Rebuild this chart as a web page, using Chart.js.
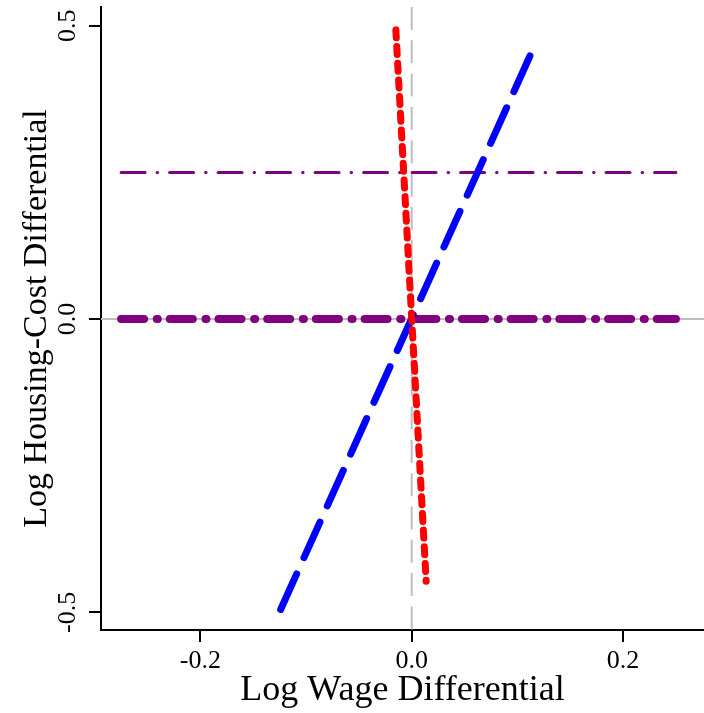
<!DOCTYPE html>
<html>
<head>
<meta charset="utf-8">
<style>
  html, body { margin: 0; padding: 0; background: #fff; }
  canvas { display: block; }
</style>
<script src="https://cdn.jsdelivr.net/npm/chart.js@4"></script>
</head>
<body>
<canvas id="chart" width="704" height="713"></canvas>
<script>
// ===== axis setup =====
const xTicks = [-0.2, 0, 0.2];
const yTicks = [-0.5, 0, 0.5];
const xLimits = [-0.294, 0.2766];
const yLimits = [-0.530, 0.532];

// ===== series =====
const blueX = [-0.124, 0.112];
const blueY = [-0.495, 0.449];
const redX = [-0.015, 0.0137];
const redY = [0.493, -0.447];
const purpleX = [-0.275, 0.25];
const purpleLowY = [0, 0];
const purpleHighY = [0.25, 0.25];

// reference lines
const refH = 0;
const refV = 0;

const serif = "'Liberation Serif', 'Times New Roman', serif";

function toPoints(xs, ys) {
    return xs.map((x, i) => ({ x: x, y: ys[i] }));
}

function lineSet(points, color, width, dash, cap) {
    return {
        data: points,
        showLine: true,
        borderColor: color,
        backgroundColor: color,
        borderWidth: width,
        borderDash: dash,
        borderCapStyle: cap || "round",
        borderJoinStyle: "round",
        pointRadius: 0,
        pointHoverRadius: 0,
        tension: 0,
        fill: false
    };
}

// first dataset ends up on top
const datasets = [
    lineSet(toPoints(redX, redY), "#ff0000", 7, [8, 8.7]),
    lineSet(toPoints(blueX, blueY), "#0000ff", 7, [39, 17.8]),
    lineSet(toPoints(purpleX, purpleLowY), "#800080", 8, [23, 12.7, 1, 12]),
    lineSet(toPoints(purpleX, purpleHighY), "#800080", 3, [24, 12, 0.5, 12]),
    lineSet(toPoints(xLimits, [refH, refH]), "#bebebe", 2, [], "butt"),
    lineSet(toPoints([refV, refV], [yLimits[1], yLimits[0]]), "#bebebe", 2, [23, 10.3], "butt")
];

const ctx = document.getElementById("chart").getContext("2d");

new Chart(ctx, {
    type: "scatter",
    data: { datasets: datasets },
    options: {
        responsive: false,
        animation: false,
        events: [],
        layout: { padding: { top: 7, left: 0, right: 0, bottom: 0 } },
        plugins: {
            legend: { display: false },
            tooltip: { enabled: false }
        },
        scales: {
            x: {
                type: "linear",
                min: xLimits[0],
                max: xLimits[1],
                afterBuildTicks: (scale) => {
                    scale.ticks = xTicks.map(v => ({ value: v }));
                },
                afterFit: (scale) => {
                    scale.height = 83;
                    scale.paddingLeft = 0;
                    scale.paddingRight = 0;
                },
                ticks: {
                    color: "#000",
                    font: { family: serif, size: 26 },
                    padding: 4,
                    maxRotation: 0,
                    callback: (v) => Number(v).toFixed(1)
                },
                grid: {
                    drawOnChartArea: false,
                    drawTicks: true,
                    tickLength: 12,
                    color: "#000",
                    lineWidth: 2
                },
                border: { display: true, color: "#000", width: 2 },
                title: {
                    display: true,
                    text: "Log Wage Differential",
                    color: "#000",
                    font: { family: serif, size: 36 },
                    padding: { top: 0, bottom: 1 }
                }
            },
            y: {
                type: "linear",
                min: yLimits[0],
                max: yLimits[1],
                afterBuildTicks: (scale) => {
                    scale.ticks = yTicks.map(v => ({ value: v }));
                },
                afterFit: (scale) => {
                    scale.width = 101;
                    scale.paddingTop = 0;
                    scale.paddingBottom = 0;
                },
                ticks: {
                    color: "#000",
                    font: { family: serif, size: 26 },
                    padding: 0,
                    minRotation: 90,
                    maxRotation: 90,
                    crossAlign: "center",
                    callback: (v) => Number(v).toFixed(1)
                },
                grid: {
                    drawOnChartArea: false,
                    drawTicks: true,
                    tickLength: 12,
                    color: "#000",
                    lineWidth: 2
                },
                border: { display: true, color: "#000", width: 2 },
                title: {
                    display: true,
                    text: "Log Housing-Cost Differential",
                    color: "#000",
                    font: { family: serif, size: 34 },
                    padding: { top: 17, bottom: 0 }
                }
            }
        }
    }
});
</script>
</body>
</html>
